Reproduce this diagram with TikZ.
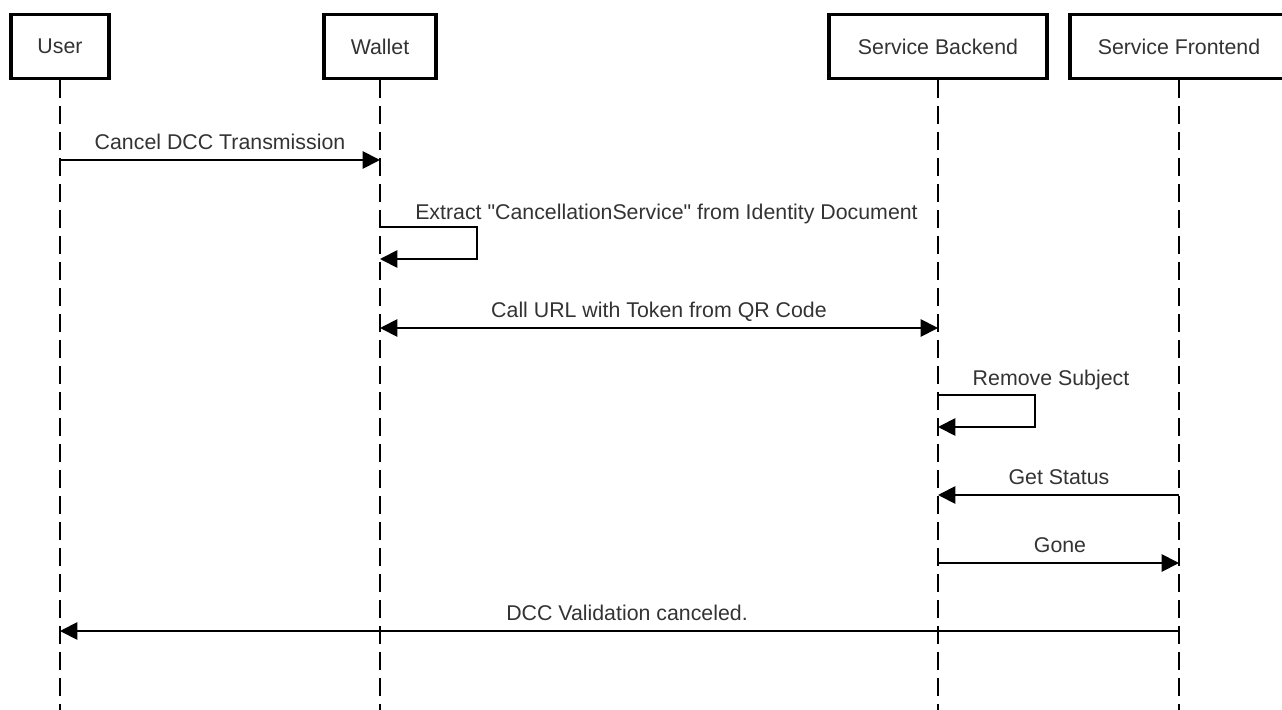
\documentclass[tikz,border=0pt]{standalone}
\usepackage{fontspec}
\setmainfont{Liberation Sans}[Ligatures=TeXOff]
\usetikzlibrary{arrows.meta}
\definecolor{txt}{HTML}{333333}
\begin{document}
\begin{tikzpicture}[x=0.75pt,y=-0.75pt,
  actor/.style={draw=black, line width=2.4pt, fill=white, minimum height=48pt, inner sep=0pt, text=txt, font=\fontsize{16}{19}\selectfont},
  life/.style={draw=black, line width=1.4pt, dash pattern=on 13.5pt off 6pt},
  msg/.style={draw=black, line width=1.4pt, -{Triangle[length=13pt,width=13pt]}},
  dmsg/.style={draw=black, line width=1.4pt, {Triangle[length=13pt,width=13pt]}-{Triangle[length=13pt,width=13pt]}},
  lbl/.style={text=txt, font=\fontsize{16}{19}\selectfont, inner sep=0pt, anchor=base}]
\useasboundingbox (0,0) rectangle (1282,710);
% actors
\node[actor, minimum width=73.5pt] (user) at (60,46.5) {User};
\node[actor, minimum width=84pt] (wallet) at (380,46.5) {Wallet};
\node[actor, minimum width=163.5pt] (back) at (938,46.5) {Service Backend};
\node[actor, minimum width=163.5pt] (front) at (1179,46.5) {Service Frontend};
% lifeline ends
\coordinate (ue) at (60,712);
\coordinate (we) at (380,712);
\coordinate (be) at (938,712);
\coordinate (fe) at (1179,712);
\draw[life] (user.south) -- (ue);
\draw[life] (wallet.south) -- (we);
\draw[life] (back.south) -- (be);
\draw[life] (front.south) -- (fe);
% message points
\coordinate (u1) at (60,160);   \coordinate (w1) at (380,160);
\coordinate (w2a) at (380,227); \coordinate (w2b) at (477,227); \coordinate (w2c) at (477,259); \coordinate (w2d) at (380,259);
\coordinate (w3) at (380,328);  \coordinate (b3) at (938,328);
\coordinate (b4a) at (938,395); \coordinate (b4b) at (1035,395); \coordinate (b4c) at (1035,427); \coordinate (b4d) at (938,427);
\coordinate (f5) at (1179,495); \coordinate (b5) at (938,495);
\coordinate (b6) at (938,563);  \coordinate (f6) at (1179,563);
\coordinate (f7) at (1179,631); \coordinate (u7) at (60,631);
% messages
\draw[msg] (u1) -- (w1);
\node[lbl] (l1) at (220,149) {Cancel DCC Transmission};
\draw[msg] (w2a) -- (w2b) -- (w2c) -- (w2d);
\node[lbl, anchor=base west] (l2) at (415,219) {Extract "CancellationService" from Identity Document};
\draw[dmsg] (w3) -- (b3);
\node[lbl] (l3) at (659,317) {Call URL with Token from QR Code};
\draw[msg] (b4a) -- (b4b) -- (b4c) -- (b4d);
\node[lbl] (l4) at (1051,385) {Remove Subject};
\draw[msg] (f5) -- (b5);
\node[lbl] (l5) at (1059,484) {Get Status};
\draw[msg] (b6) -- (f6);
\node[lbl] (l6) at (1060,552) {Gone};
\draw[msg] (f7) -- (u7);
\node[lbl] (l7) at (627,620) {DCC Validation canceled.};
\end{tikzpicture}
\end{document}
